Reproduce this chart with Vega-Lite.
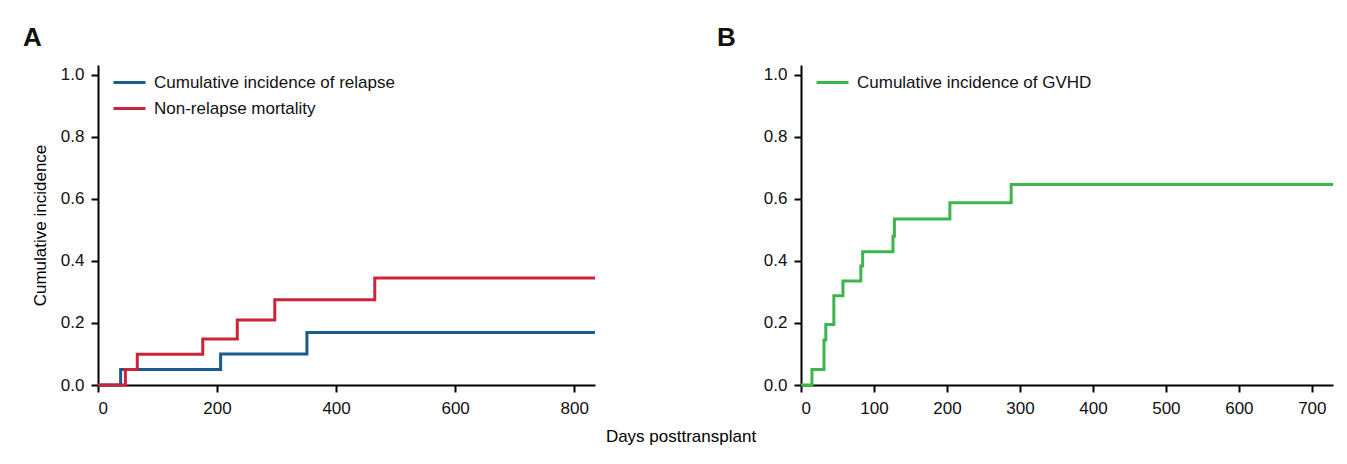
{
  "$schema": "https://vega.github.io/schema/vega-lite/v6.json",
  "background": "white",
  "padding": {"left": 23, "top": 25, "right": 0, "bottom": 0},
  "datasets": {
    "a": [
      {"series": "Cumulative incidence of relapse", "day": 0, "ci": 0},
      {"series": "Cumulative incidence of relapse", "day": 38, "ci": 0.05},
      {"series": "Cumulative incidence of relapse", "day": 206, "ci": 0.10},
      {"series": "Cumulative incidence of relapse", "day": 351, "ci": 0.169},
      {"series": "Cumulative incidence of relapse", "day": 835, "ci": 0.169},
      {"series": "Non-relapse mortality", "day": 0, "ci": 0},
      {"series": "Non-relapse mortality", "day": 46, "ci": 0.05},
      {"series": "Non-relapse mortality", "day": 66, "ci": 0.099},
      {"series": "Non-relapse mortality", "day": 176, "ci": 0.148},
      {"series": "Non-relapse mortality", "day": 234, "ci": 0.21},
      {"series": "Non-relapse mortality", "day": 297, "ci": 0.275},
      {"series": "Non-relapse mortality", "day": 465, "ci": 0.345},
      {"series": "Non-relapse mortality", "day": 835, "ci": 0.345}
    ],
    "b": [
      {"series": "Cumulative incidence of GVHD", "day": 0, "ci": 0},
      {"series": "Cumulative incidence of GVHD", "day": 15, "ci": 0.05},
      {"series": "Cumulative incidence of GVHD", "day": 31.5, "ci": 0.145},
      {"series": "Cumulative incidence of GVHD", "day": 34, "ci": 0.195},
      {"series": "Cumulative incidence of GVHD", "day": 45, "ci": 0.288},
      {"series": "Cumulative incidence of GVHD", "day": 57.5, "ci": 0.335},
      {"series": "Cumulative incidence of GVHD", "day": 82, "ci": 0.384},
      {"series": "Cumulative incidence of GVHD", "day": 84.5, "ci": 0.43},
      {"series": "Cumulative incidence of GVHD", "day": 126, "ci": 0.48},
      {"series": "Cumulative incidence of GVHD", "day": 128, "ci": 0.535},
      {"series": "Cumulative incidence of GVHD", "day": 204, "ci": 0.588},
      {"series": "Cumulative incidence of GVHD", "day": 288, "ci": 0.647},
      {"series": "Cumulative incidence of GVHD", "day": 729, "ci": 0.647}
    ]
  },
  "title": {
    "text": "Days posttransplant",
    "orient": "bottom",
    "anchor": "middle",
    "font": "Liberation Sans",
    "fontSize": 17,
    "fontWeight": "normal",
    "color": "black",
    "offset": 13
  },
  "spacing": 206,
  "bounds": "flush",
  "hconcat": [
    {
      "title": {"text": "A", "anchor": "start", "frame": "group", "dx": -75, "offset": 14, "fontSize": 26, "fontWeight": "bold", "font": "Liberation Sans", "color": "#111"},
      "width": 497,
      "height": 320,
      "data": {"name": "a"},
      "mark": {"type": "line", "interpolate": "step-after", "strokeWidth": 3},
      "encoding": {
        "x": {"field": "day", "type": "quantitative", "scale": {"domain": [0, 835], "nice": false}, "axis": {"values": [0, 200, 400, 600, 800], "title": null}},
        "y": {"field": "ci", "type": "quantitative", "scale": {"domain": [0, 1.032], "nice": false}, "axis": {"values": [0, 0.2, 0.4, 0.6, 0.8, 1.0], "format": ".1f", "title": "Cumulative incidence"}},
        "color": {
          "field": "series", "type": "nominal",
          "scale": {"domain": ["Cumulative incidence of relapse", "Non-relapse mortality"], "range": ["#1b5a8d", "#c9243a"]},
          "legend": {"title": null, "orient": "none", "legendX": 14, "legendY": 0, "symbolType": "stroke", "symbolSize": 1024, "symbolStrokeWidth": 3, "labelFontSize": 17, "labelFont": "Liberation Sans", "labelColor": "#111", "labelOffset": 7, "rowPadding": -6, "padding": 0, "labelLimit": 400}
        }
      }
    },
    {
      "title": {"text": "B", "anchor": "start", "frame": "group", "dx": -84, "offset": 14, "fontSize": 26, "fontWeight": "bold", "font": "Liberation Sans", "color": "#111"},
      "width": 532,
      "height": 320,
      "data": {"name": "b"},
      "mark": {"type": "line", "interpolate": "step-after", "strokeWidth": 3},
      "encoding": {
        "x": {"field": "day", "type": "quantitative", "scale": {"domain": [0, 729], "nice": false}, "axis": {"values": [0, 100, 200, 300, 400, 500, 600, 700], "title": null}},
        "y": {"field": "ci", "type": "quantitative", "scale": {"domain": [0, 1.032], "nice": false}, "axis": {"values": [0, 0.2, 0.4, 0.6, 0.8, 1.0], "format": ".1f", "title": null}},
        "color": {
          "field": "series", "type": "nominal",
          "scale": {"domain": ["Cumulative incidence of GVHD"], "range": ["#3cb54a"]},
          "legend": {"title": null, "orient": "none", "legendX": 14, "legendY": 0, "symbolType": "stroke", "symbolSize": 1024, "symbolStrokeWidth": 3, "labelFontSize": 17, "labelFont": "Liberation Sans", "labelColor": "#111", "labelOffset": 7, "rowPadding": -6, "padding": 0, "labelLimit": 400}
        }
      }
    }
  ],
  "resolve": {"scale": {"color": "independent", "x": "independent", "y": "independent"}},
  "config": {
    "view": {"stroke": null},
    "axis": {
      "grid": false,
      "domainColor": "black",
      "domainWidth": 2,
      "tickColor": "black",
      "tickWidth": 2,
      "tickSize": 7,
      "labelFont": "Liberation Sans",
      "labelFontSize": 17,
      "labelColor": "#111",
      "labelPadding": 7,
      "titleFont": "Liberation Sans",
      "titleFontSize": 17,
      "titleFontWeight": "normal",
      "titleColor": "black",
      "titlePadding": 11
    },
    "axisX": {"labelPadding": 8}
  }
}
